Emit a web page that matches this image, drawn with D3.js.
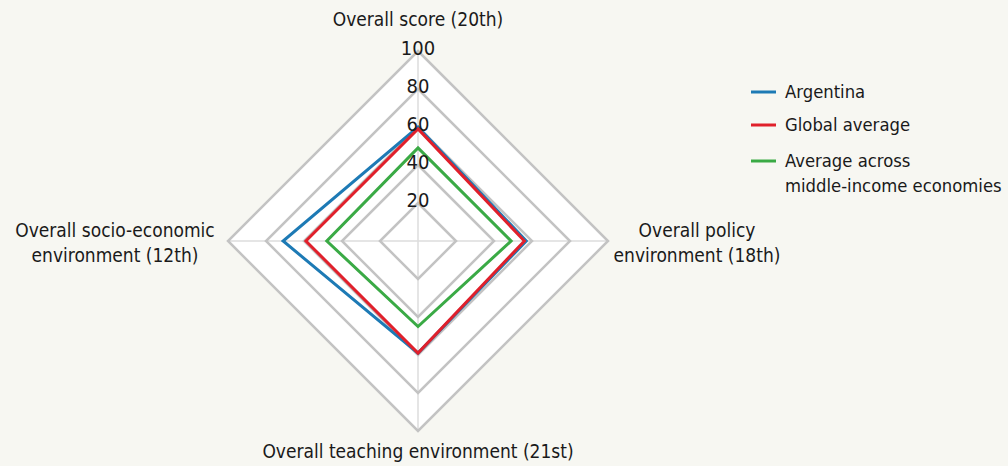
<!DOCTYPE html>
<html>
<head>
<meta charset="utf-8">
<script src="https://cdn.jsdelivr.net/npm/d3@7"></script>
<style>
  body { margin: 0; background: #f7f7f2; }
  svg { display: block; }
  text { font-family: "DejaVu Sans Condensed", "Liberation Sans Narrow", sans-serif; fill: #1a1a1a; }
</style>
</head>
<body>
<svg id="chart" width="1008" height="466"></svg>
<script>
// axes, clockwise from top
const axes = [
  ['Overall score (20th)'],
  ['Overall policy', 'environment (18th)'],
  ['Overall teaching environment (21st)'],
  ['Overall socio-economic', 'environment (12th)']
];
const ticks = [20, 40, 60, 80, 100];

const argentina = [60, 57, 59, 71];
const globalAvg = [59, 56, 59, 59];
const middleIncome = [49, 49, 45, 48];
const colors = { 'Argentina': '#1d7ab5', 'Global average': '#e0202b', 'Average across middle-income economies': '#3aaa45' };

const svg = d3.select('#chart');
const cx = 418, cy = 241, radius = 190;

let r = d3.scaleLinear().domain([0, 100]).range([0, radius]);
let angle = i => -Math.PI / 2 + i * Math.PI / 2;
let pt = (v, i) => [cx + r(v) * Math.cos(angle(i)), cy + r(v) * Math.sin(angle(i))];

let line = d3.line().curve(d3.curveLinearClosed);

// white plot area
svg.append('path')
  .attr('d', line(axes.map((a, i) => pt(100, i))))
  .attr('fill', '#fff');

// spokes
axes.forEach((a, i) => {
  let p = pt(100, i);
  svg.append('line')
    .attr('x1', cx).attr('y1', cy)
    .attr('x2', p[0]).attr('y2', p[1])
    .attr('stroke', '#dcdcdc').attr('stroke-width', 1.5);
});

// grid rings
svg.selectAll('path.ring').data(ticks).enter()
  .append('path')
  .attr('class', 'ring')
  .attr('d', t => line(axes.map((a, i) => pt(t, i))))
  .attr('fill', 'none')
  .attr('stroke', '#c3c3c3')
  .attr('stroke-width', 2.5);

// series
let data = [
  { name: 'Average across middle-income economies', values: middleIncome },
  { name: 'Global average', values: globalAvg },
  { name: 'Argentina', values: argentina }
];
// draw Argentina under the global average, like the original
let drawOrder = [data[0], data[2], data[1]];
svg.selectAll('path.series').data(drawOrder).enter()
  .append('path')
  .attr('class', 'series')
  .attr('d', d => line(d.values.map((v, i) => pt(v, i))))
  .attr('fill', 'none')
  .attr('stroke', d => colors[d.name])
  .attr('stroke-width', 3)
  .attr('stroke-linejoin', 'miter');

// tick labels
svg.selectAll('text.tick').data(ticks).enter()
  .append('text')
  .attr('class', 'tick')
  .attr('x', cx)
  .attr('y', t => cy - r(t) - 2)
  .attr('text-anchor', 'middle')
  .attr('dominant-baseline', 'middle')
  .attr('font-size', 20)
  .text(t => t);

// axis labels
let labelPos = [
  { x: cx, y: 26 },
  { x: 697, y: 237 },
  { x: cx, y: 458 },
  { x: 115, y: 237 }
];
axes.forEach((lines, i) => {
  let t = svg.append('text')
    .attr('x', labelPos[i].x)
    .attr('y', labelPos[i].y)
    .attr('text-anchor', 'middle')
    .attr('font-size', 19);
  lines.forEach((s, j) => {
    t.append('tspan').attr('x', labelPos[i].x).attr('dy', j ? 25 : 0).text(s);
  });
});

// legend
let legend = [
  { name: 'Argentina', lines: ['Argentina'], y: 92 },
  { name: 'Global average', lines: ['Global average'], y: 125 },
  { name: 'Average across middle-income economies', lines: ['Average across', 'middle-income economies'], y: 161 }
];
legend.forEach(d => {
  svg.append('line')
    .attr('x1', 751).attr('x2', 776)
    .attr('y1', d.y).attr('y2', d.y)
    .attr('stroke', colors[d.name]).attr('stroke-width', 3);
  let t = svg.append('text')
    .attr('x', 785).attr('y', d.y + 6)
    .attr('font-size', 18.3);
  d.lines.forEach((s, j) => {
    t.append('tspan').attr('x', 785).attr('dy', j ? 25 : 0).text(s);
  });
});
</script>
</body>
</html>
